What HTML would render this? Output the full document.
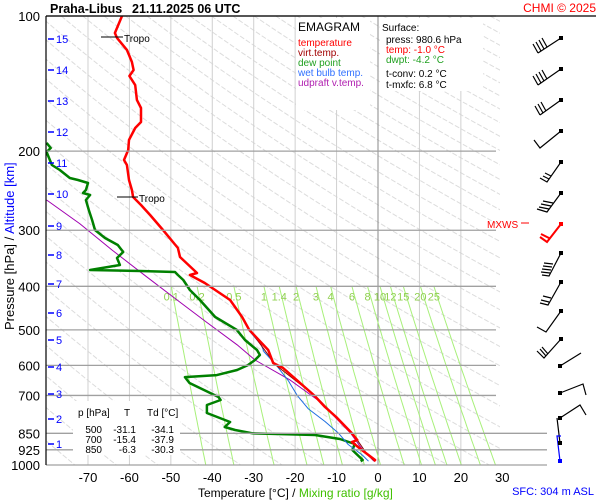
<!DOCTYPE html>
<html><head><meta charset="utf-8"><style>
body{margin:0;background:#fff;}
svg{display:block;font-family:"Liberation Sans",sans-serif;}
</style></head><body>
<svg id="chart" width="600" height="500" viewBox="0 0 600 500">
<defs><clipPath id="plotclip"><rect x="46" y="16" width="454" height="449"/></clipPath></defs>
<rect x="0" y="0" width="600" height="500" fill="#fff"/>
<g id="grid" clip-path="url(#plotclip)"></g>
<g id="series" clip-path="url(#plotclip)"></g>
<g id="overlay"></g>
</svg>
<script>
// ---- data ----
const pressureTicks = [100,200,300,400,500,600,700,850,925,1000];
const tempTicks = [-70,-60,-50,-40,-30,-20,-10,0,10,20,30];
const mixingRatios = [0.1,0.2,0.5,1,1.4,2,3,4,6,8,10,12,15,20,25];
const altitudeKm = [1,2,3,4,5,6,7,8,9,10,11,12,13,14,15];
const altitudeY = [444,419,394,367,340,313,284,255,226,194,163,132,101,70,39];
const tempP = [100,109.1,111.9,119.0,126.6,131.9,136.0,142.5,153.8,160.3,172.2,177.6,188.8,198.8,209.3,214.7,231.9,244.1,253.0,263.6,277.5,299.7,328.7,344.2,369.8,373.6,377.5,393.3,429.0,468.1,500,554.4,592.7,608.1,656.8,700,742.8,782.0,850,879.8,888.8,926.0,974.6,980.6];
const tempT = [-61.8,-63.5,-63,-60.6,-59.4,-59,-60,-58.6,-58.2,-57.2,-57.2,-58.6,-60.1,-60.3,-61.3,-60.6,-60.1,-59.4,-59.1,-57.2,-55,-51.9,-48.3,-47.8,-44.2,-43.7,-45.4,-41.8,-35.7,-32.8,-31.1,-26.5,-25.3,-22.9,-18.8,-15.4,-12.8,-10.1,-6.3,-5.0,-6.3,-3.9,-0.7,-1.0];
const dewP = [191.7,196.8,200.9,214.7,220.3,229.5,231.9,235.5,244.1,247.9,250.4,256.9,270.4,284.7,299.7,312.2,323.6,335.5,345.9,358.6,367.9,369.8,371.7,377.5,387.3,407.6,429.0,468.1,500,526.7,554.4,568.9,583.7,599.0,614.5,630.5,637.0,656.8,705.7,716.7,735.1,766.0,802.2,823.0,835.8,850,857.6,875.2,897.9,926,974.6,980.6];
const dewT = [-80,-79,-80,-78.7,-76.8,-74.4,-72.4,-70,-70.5,-71.2,-69.5,-70.5,-69.8,-69,-68.3,-65.9,-62.8,-61.5,-63,-62.3,-69.5,-57.4,-49,-48.3,-47,-45.4,-43,-39.3,-34.1,-32.1,-29.2,-28.5,-29.7,-31.4,-34,-38.9,-46.6,-45.5,-38.5,-38,-41.3,-41.3,-35.7,-37,-34.5,-30.3,-15.2,-9.2,-5.6,-6.2,-3.7,-4.2];
const wetP = [500,540,560,600,650,700,750,800,850,900,950,980.6];
const wetT = [-31.3,-28.2,-27.5,-24.5,-21.6,-19.5,-16.8,-12.8,-9.5,-7.2,-3.8,-2.3];
const parcelP = [256.9,290,332,380,429,480,540,583.7,647,717,780,850,920,980.6];
const parcelT = [-80,-72,-64.2,-56,-48.5,-41.5,-34,-29.7,-21.2,-14.5,-10.5,-6.6,-3.9,-1.0];
const virtP = [500,600,700,850,950,980.6];
const virtT = [-31,-24.6,-15.3,-6.1,-2.5,-0.8];
// ---- scales ----
function yP(p){return 16+Math.log10(p/100)*449;}
function xT(t){return 378+t*4.143;}
const NS="http://www.w3.org/2000/svg";
function mk(tag,attrs,parent,text){const e=document.createElementNS(NS,tag);for(const k in attrs)e.setAttribute(k,attrs[k]);if(text!==undefined)e.textContent=text;parent.appendChild(e);return e;}
const grid=document.getElementById('grid'),series=document.getElementById('series'),ov=document.getElementById('overlay');
// dry adiabats
for(let th=150;th<=600;th+=10){let pts=[];for(let p=100;p<=1000;p+=10){pts.push(xT(th*Math.pow(p/1000,0.286)-273.15).toFixed(1)+','+yP(p).toFixed(1));}
 const l=mk('polyline',{points:pts.join(' '),fill:'none',stroke:'#dcdcdc','stroke-width':1,'stroke-dasharray':'5,2'},grid);
 
 }
// vertical grid
tempTicks.forEach(t=>{const l=mk('line',{x1:xT(t),x2:xT(t),y1:16,y2:465,stroke:t===0?'#888':'#d0d0d0','stroke-width':1},grid);
 
 });
// horizontal grid
pressureTicks.forEach(p=>{const l=mk('line',{x1:46,x2:p>=850?547:496,y1:yP(p),y2:yP(p),stroke:'#a0a0a0','stroke-width':1.3},ov);
 
 
 const t=mk('text',{x:40,y:yP(p)+5,'text-anchor':'end','font-size':13,fill:'#000'},ov,String(p));
 
 });
// mixing ratio lines
function tdFromW(w,p){const e=w*p/(622+w);const l=Math.log(e/6.112);return 243.5*l/(17.67-l);}
mixingRatios.forEach(w=>{const pts=[];for(let p=400;p<=1000;p+=20)pts.push(xT(tdFromW(w,p)).toFixed(1)+','+yP(p).toFixed(1));
 const l=mk('polyline',{points:pts.join(' '),fill:'none',stroke:'#a8f07a','stroke-width':1},grid);
 
 
 const t=mk('text',{x:xT(tdFromW(w,400)),y:yP(400)+14,'text-anchor':'middle','font-size':11,fill:'#90d050'},grid,String(w));
 
 });
// series
function line(P,T,col,w,name){const pts=P.map((p,i)=>xT(T[i]).toFixed(1)+','+yP(p).toFixed(1)).join(' ');
 const l=mk('polyline',{points:pts,fill:'none',stroke:col,'stroke-width':w,'stroke-linejoin':'round'},series);
 
 }
line(parcelP,parcelT,'#a000b0',1,'updraft-virtual-temp-line');
line(dewP,dewT,'#008000',2.5,'dew-point-line');
line(wetP,wetT,'#1e6ee0',1,'wet-bulb-line');
line(virtP,virtT,'#900000',1,'virtual-temp-line');
line(tempP,tempT,'#ff0000',2.5,'temperature-line');
// axes
mk('line',{x1:46,x2:46,y1:16,y2:465,stroke:'#000','stroke-width':1.2},ov);
mk('line',{x1:46,x2:596,y1:16,y2:16,stroke:'#000','stroke-width':1.2},ov);
tempTicks.forEach(t=>{const e=mk('text',{x:xT(t),y:482,'text-anchor':'middle','font-size':13,fill:'#000'},ov,String(t));
 
 });
altitudeKm.forEach((k,i)=>{mk('line',{x1:48,x2:54,y1:altitudeY[i],y2:altitudeY[i],stroke:'#0000ff','stroke-width':1.5},ov);
 const e=mk('text',{x:56,y:altitudeY[i]+4,'font-size':11,fill:'#0000ff'},ov,String(k));
 
 });
</script>
<svg style="position:absolute;left:0;top:0" width="600" height="500">
<g font-family="Liberation Sans, sans-serif">
<text x="50" y="13" font-size="12.5" font-weight="bold">Praha-Libus</text>
<text x="132" y="13" font-size="12.5" font-weight="bold">21.11.2025 06 UTC</text>
<text x="596" y="12" font-size="12" fill="#ff0000" text-anchor="end">CHMI © 2025</text>
<g transform="translate(14,330) rotate(-90)" font-size="13"><text x="0" y="0">Pressure [hPa]  /  <tspan fill="#0000ff">Altitude [km]</tspan></text></g>
<text x="198" y="497" font-size="12">Temperature [°C]  /  <tspan fill="#40c000">Mixing ratio [g/kg]</tspan></text>
<text x="594" y="495" font-size="11" fill="#0000ff" text-anchor="end">SFC: 304 m ASL</text>
<g>
<rect x="296" y="18" width="74" height="92" fill="#fff"/>
<text x="298" y="31" font-size="12">EMAGRAM</text>
<text x="298" y="46" font-size="10" fill="#ff0000">temperature</text>
<text x="298" y="56" font-size="10" fill="#a00000">virt.temp.</text>
<text x="298" y="66" font-size="10" fill="#20a020">dew point</text>
<text x="298" y="76" font-size="10" fill="#3070ff">wet bulb temp.</text>
<text x="298" y="86" font-size="10" fill="#b020b0">udpraft v.temp.</text>
</g>
<g>
<rect x="380" y="18" width="103" height="73" fill="#fff"/>
<text x="382" y="31" font-size="10">Surface:</text>
<text x="386" y="43" font-size="10">press: 980.6 hPa</text>
<text x="386" y="53" font-size="10" fill="#ff0000">temp: -1.0 °C</text>
<text x="386" y="63" font-size="10" fill="#20a020">dwpt: -4.2 °C</text>
<text x="386" y="77" font-size="10">t-conv: 0.2 °C</text>
<text x="386" y="88" font-size="10">t-mxfc: 6.8 °C</text>
</g>
<g font-size="10">
<rect x="73" y="401" width="107" height="54" fill="#fff"/>
<text x="78" y="416">p [hPa]</text><text x="124" y="416">T</text><text x="147" y="416">Td [°C]</text>
<text x="102" y="433" text-anchor="end">500</text><text x="136" y="433" text-anchor="end">-31.1</text><text x="174" y="433" text-anchor="end">-34.1</text>
<text x="102" y="443" text-anchor="end">700</text><text x="136" y="443" text-anchor="end">-15.4</text><text x="174" y="443" text-anchor="end">-37.9</text>
<text x="102" y="453" text-anchor="end">850</text><text x="136" y="453" text-anchor="end">-6.3</text><text x="174" y="453" text-anchor="end">-30.3</text>
</g>
<g font-size="10">
<line x1="101" y1="37" x2="123" y2="37" stroke="#000"/><text x="124" y="42">Tropo</text>
<line x1="117" y1="197" x2="138" y2="197" stroke="#000"/><text x="139" y="202">Tropo</text>
</g>
<g><text x="487" y="228" font-size="10" fill="#ff0000">MXWS</text><line x1="521" y1="223" x2="529" y2="223" stroke="#ff0000"/></g>
<g id="barbs" stroke="#000" stroke-width="1.2" fill="none">
<path d="M561 38 L538 53 M538 53 l-5 -9 M541 51 l-5 -9 M544 49 l-5 -9 M547 47 l-5 -9"/>
<path d="M561 69 L538 85 M538 85 l-5 -9 M541 83 l-5 -9 M544 81 l-5 -9 M547 79 l-5 -9"/>
<path d="M561 100 L540 115 M540 115 l-5 -9 M543 113 l-5 -9 M546 111 l-5 -9"/>
<path d="M561 131 L540 148 L534 140"/>
<path d="M561 162 L547 182 L540 178 M549 179 l-6 -3 M551 176 l-6 -3"/>
<path d="M561 193 L547 212 L537 209 M549 209 l-10 -2 M551 206 l-10 -2 M553 203 l-10 -2"/>
<path stroke="#ff0000" stroke-width="2" d="M561 224 L547 242 L540 237 M549 238 l-8 -4"/>
<path d="M561 253 L549 276 L542 275 M550 273 l-9 -1 M551 270 l-9 -1 M552 267 l-9 -1 M553 264 l-9 -1"/>
<path d="M561 282 L548 305 L540 303 M549 302 l-8 -2 M551 298 l-8 -2"/>
<path d="M561 311 L546 332 L537 327"/>
<path d="M561 339 L544 358 L537 351 M546 356 l-6 -7 M548 354 l-6 -7"/>
<path d="M560 366 L581 353"/>
<path d="M560 393 L583 384 L586 395"/>
<path d="M560 418 L580 405 L586 415 M557 418 L560 443"/>
<path stroke="#0000ff" d="M560 461 L557 436 L561 436"/>
</g>
<g fill="#000">
<rect x="559" y="36" width="4" height="4"/><rect x="559" y="67" width="4" height="4"/><rect x="559" y="98" width="4" height="4"/><rect x="559" y="129" width="4" height="4"/><rect x="559" y="160" width="4" height="4"/><rect x="559" y="191" width="4" height="4"/><rect x="559" y="222" width="4" height="4" fill="#ff0000"/><rect x="559" y="251" width="4" height="4"/><rect x="559" y="280" width="4" height="4"/><rect x="559" y="309" width="4" height="4"/><rect x="559" y="337" width="4" height="4"/><rect x="558" y="364" width="4" height="4"/><rect x="558" y="391" width="4" height="4"/><rect x="558" y="416" width="4" height="4"/><rect x="558" y="441" width="4" height="4"/><rect x="558" y="459" width="4" height="4" fill="#0000ff"/>
</g>
</g>
</svg>
</body></html>
